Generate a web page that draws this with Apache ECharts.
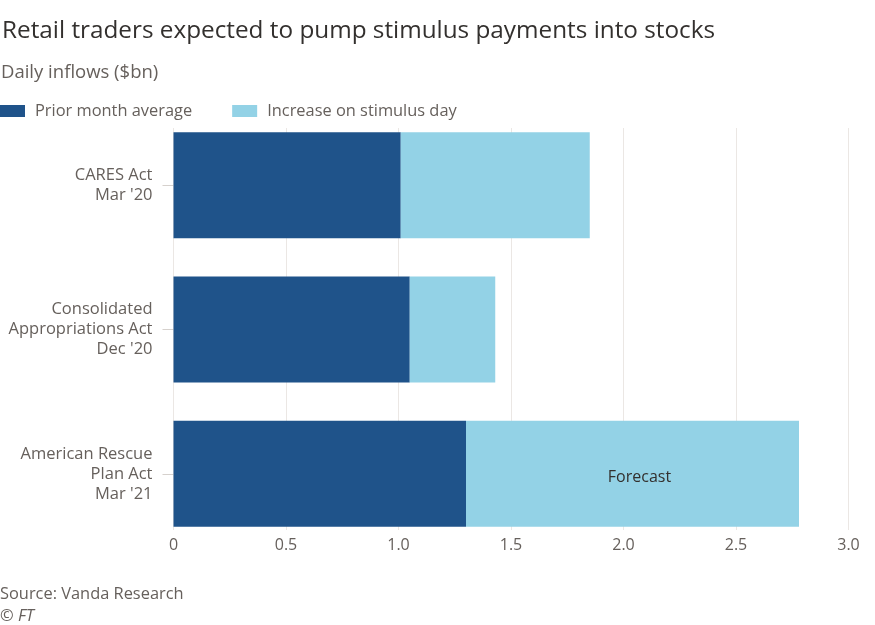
<!DOCTYPE html>
<html>
<head>
<meta charset="utf-8">
<script src="https://cdn.jsdelivr.net/npm/echarts@6/dist/echarts.min.js"></script>
<style>
html,body{margin:0;padding:0;background:#fff;}
#chart{width:875px;height:625px;}
</style>
</head>
<body>
<div id="chart"></div>
<script>
const categories = ["CARES Act\nMar '20", "Consolidated\nAppropriations Act\nDec '20", "American Rescue\nPlan Act\nMar '21"];
const priorMonthAverage = [1.01, 1.05, 1.30];
const increaseOnStimulusDay = [0.84, 0.38, 1.48];
const barNotes = ["", "", "Forecast"];
const xTicks = [0, 0.5, 1.0, 1.5, 2.0, 2.5, 3.0];

const FONT = "'Open Sans', Lato, sans-serif";
const GREY = "#66605c";
const DARK = "#1f538a";
const LIGHT = "#93d2e6";

const chart = echarts.init(document.getElementById('chart'), null, {renderer: 'canvas'});
chart.setOption({
  backgroundColor: '#fff',
  animation: false,
  textStyle: {fontFamily: FONT},
  title: [
    {text: 'Retail traders expected to pump stimulus payments into stocks', left: 2, top: 19, padding: 0,
     textStyle: {fontFamily: FONT, fontSize: 24.3, fontWeight: 'normal', color: '#33302e'}},
    {text: 'Daily inflows ($bn)', left: 1, top: 63, padding: 0,
     textStyle: {fontFamily: FONT, fontSize: 18.5, fontWeight: 'normal', color: GREY}},
    {text: 'Source: Vanda Research', left: 0, top: 586, padding: 0,
     textStyle: {fontFamily: FONT, fontSize: 16.4, fontWeight: 'normal', color: GREY}},
    {text: '© FT', left: 0, top: 608, padding: 0,
     textStyle: {fontFamily: FONT, fontSize: 16.4, fontWeight: 'normal', fontStyle: 'italic', color: GREY}}
  ],
  legend: {
    left: 0, top: 98, itemWidth: 25, itemHeight: 12, itemGap: 40, padding: [5, 5, 5, 0],
    icon: 'rect',
    textStyle: {fontFamily: FONT, fontSize: 16.4, color: GREY, padding: [0, 0, 0, 5]},
    data: ['Prior month average', 'Increase on stimulus day']
  },
  grid: [
    {left: 173.5, right: 26.5, top: 113, height: 433},
    {left: 173.5, right: 26.5, top: 128, height: 402}
  ],
  xAxis: [
    {type: 'value', gridIndex: 0, min: 0, max: 3, interval: 0.5,
     axisLine: {show: false}, axisTick: {show: false}, axisLabel: {show: false}, splitLine: {show: false}},
    {type: 'value', gridIndex: 1, min: 0, max: 3, interval: 0.5,
     axisLine: {show: false}, axisTick: {show: false},
     axisLabel: {color: GREY, fontFamily: FONT, fontSize: 16, margin: 7,
       formatter: v => { const t = xTicks.find(x => Math.abs(x - v) < 1e-9); return t === 0 ? '0' : (t !== undefined ? t.toFixed(1) : ''); }},
     splitLine: {show: true, lineStyle: {color: '#ebe7e4', width: 1}}}
  ],
  yAxis: [
    {type: 'category', gridIndex: 0, inverse: true, data: categories,
     axisLine: {show: false},
     axisTick: {show: true, alignWithLabel: true, length: 11, lineStyle: {color: '#d6d1cd'}},
     axisLabel: {color: GREY, fontFamily: FONT, fontSize: 16.5, lineHeight: 20, margin: 21, align: 'right'}},
    {type: 'value', gridIndex: 1, show: false}
  ],
  series: [
    {name: 'Prior month average', type: 'bar', stack: 's', xAxisIndex: 0, yAxisIndex: 0,
     barWidth: '73.4%', itemStyle: {color: DARK}, data: priorMonthAverage},
    {name: 'Increase on stimulus day', type: 'bar', stack: 's', xAxisIndex: 0, yAxisIndex: 0,
     barWidth: '73.4%', itemStyle: {color: LIGHT},
     data: increaseOnStimulusDay.map((v, i) => ({
       value: v,
       label: barNotes[i] ? {show: true, position: 'inside', formatter: barNotes[i], offset: [7, 4],
         color: '#33302e', fontFamily: FONT, fontSize: 16} : {show: false}
     }))}
  ]
});
</script>
</body>
</html>
